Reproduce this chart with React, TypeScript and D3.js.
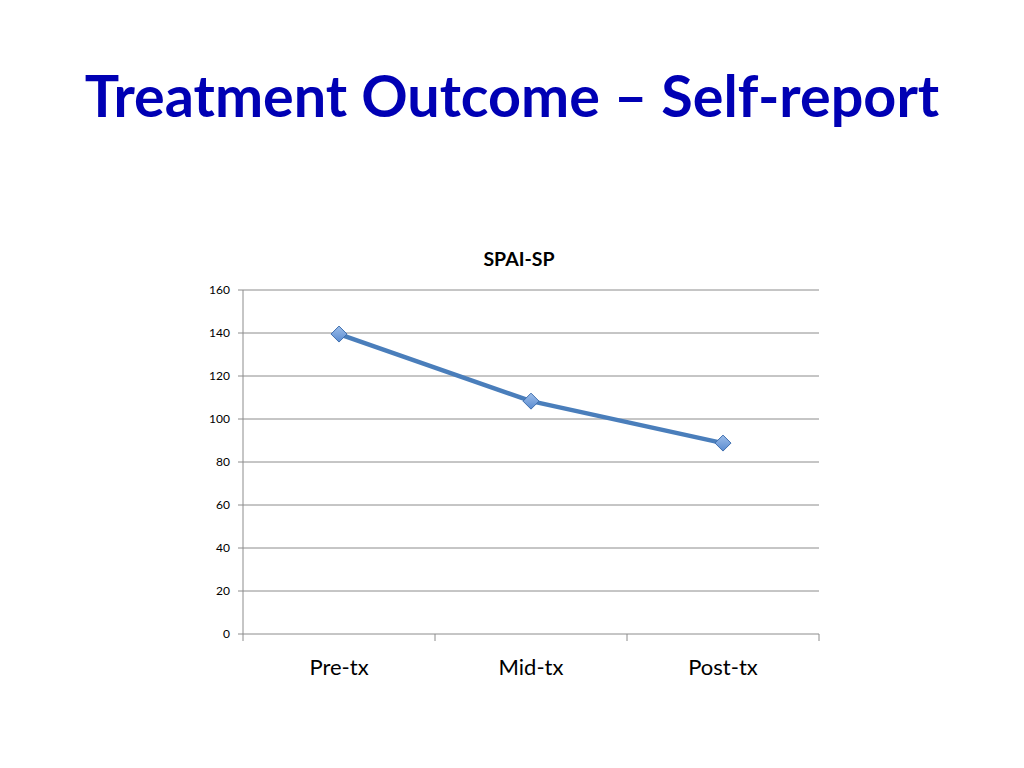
import React from "react";
import * as d3 from "d3";

const categories = ["Pre-tx", "Mid-tx", "Post-tx"];
const values = [139.5, 108.3, 88.8];
const yTicks = [0, 20, 40, 60, 80, 100, 120, 140, 160];
const chartTitle = "SPAI-SP";
const slideTitle = "Treatment Outcome \u2013 Self-report";

export default function App() {
  const W = 1024, H = 768;
  const left = 243, right = 819, top = 290, bottom = 634;
  const x = d3.scaleBand<string>().domain(categories).range([left, right]);
  const y = d3.scaleLinear().domain([0, 160]).range([bottom, top]);
  const line = d3.line<number>()
    .x((_, i) => (x(categories[i]) as number) + x.bandwidth() / 2)
    .y((d) => y(d));
  const font = "Lato, 'Open Sans', sans-serif";
  const bounds = [left, ...categories.map((c) => (x(c) as number) + x.bandwidth())];
  return (
    <svg width={W} height={H} style={{ position: "absolute", left: 0, top: 0 }}>
      <defs>
        <linearGradient id="mk" x1="0" y1="0" x2="0" y2="1">
          <stop offset="0" stopColor="#9DBEEA" />
          <stop offset="1" stopColor="#5A8BD0" />
        </linearGradient>
      </defs>
      <rect width={W} height={H} fill="#fff" />
      <text x={512} y={117} textAnchor="middle" fontFamily={font} fontWeight={700}
        fontSize={57.5} fill="#0000B4">{slideTitle}</text>
      <text x={519} y={266} textAnchor="middle" fontFamily={font} fontWeight={700}
        fontSize={19.5} fill="#000">{chartTitle}</text>
      {yTicks.map((t) => (
        <g key={t}>
          <line x1={left} x2={right} y1={y(t)} y2={y(t)} stroke="#8c8c8c" strokeWidth={1} />
          <line x1={left - 5} x2={left} y1={y(t)} y2={y(t)} stroke="#8c8c8c" strokeWidth={1} />
          <text x={230} y={y(t) + 4} textAnchor="end" fontFamily={font} fontSize={12} fill="#000">{t}</text>
        </g>
      ))}
      <line x1={left} x2={left} y1={top} y2={bottom} stroke="#8c8c8c" strokeWidth={1} />
      {bounds.map((b, i) => (
        <line key={i} x1={b} x2={b} y1={bottom} y2={bottom + 7} stroke="#8c8c8c" strokeWidth={1} />
      ))}
      {categories.map((c) => (
        <text key={c} x={(x(c) as number) + x.bandwidth() / 2} y={675} textAnchor="middle"
          fontFamily={font} fontSize={22} fill="#000">{c}</text>
      ))}
      <path d={line(values) || ""} fill="none" stroke="#4A7EBB" strokeWidth={4.5} strokeLinejoin="round" />
      {values.map((v, i) => {
        const cx = (x(categories[i]) as number) + x.bandwidth() / 2;
        const cy = y(v);
        const s = 8;
        return (
          <path key={i} d={`M${cx},${cy - s}L${cx + s},${cy}L${cx},${cy + s}L${cx - s},${cy}Z`}
            fill="url(#mk)" stroke="#3F6FAF" strokeWidth={1} />
        );
      })}
    </svg>
  );
}
